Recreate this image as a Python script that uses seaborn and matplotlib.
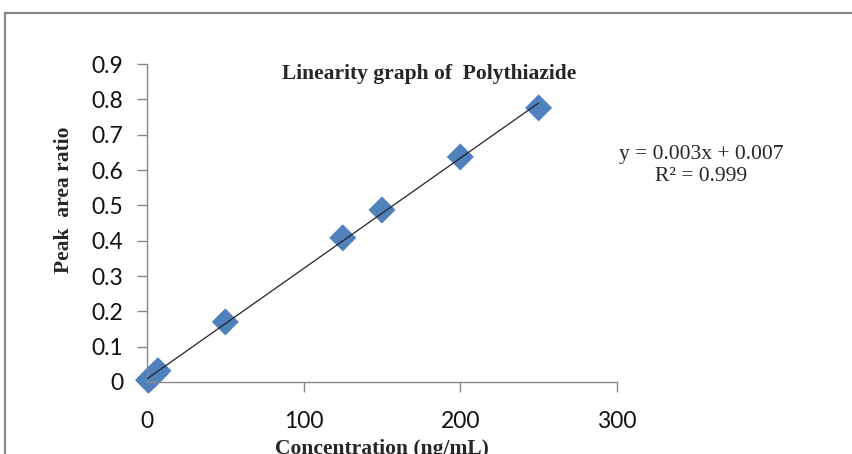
import numpy as np
import pandas as pd
import matplotlib
matplotlib.use("Agg")
import matplotlib.pyplot as plt
import seaborn as sns
from matplotlib.patches import Rectangle

# calibration data
conc = [1, 2.5, 5, 7, 50, 125, 150, 200, 250]
ratio = [0.005, 0.012, 0.022, 0.032, 0.17, 0.408, 0.487, 0.637, 0.776]
xticks = [0, 100, 200, 300]
yticks = [0, 0.1, 0.2, 0.3, 0.4, 0.5, 0.6, 0.7, 0.8, 0.9]

df = pd.DataFrame({'conc': conc, 'ratio': ratio})

sns.set_style('white')
fig = plt.figure(figsize=(8.53, 4.54), dpi=100)
ax = fig.add_axes([0.1723, 0.1586, 0.551, 0.7004])

# chart frame, runs off the right and bottom edges
fig.patches.append(Rectangle((0.006, -0.1), 1.2, 1.071, transform=fig.transFigure,
                             fill=False, edgecolor='#888888', linewidth=1.6))

slope, icpt = np.polyfit(df['conc'], df['ratio'], 1)
xl = np.array([0, df['conc'].max()])
ax.plot(xl, slope * xl + icpt, color='#222222', linewidth=0.9, zorder=3)

sns.scatterplot(data=df, x='conc', y='ratio', marker='D', s=190, color='#4F81BD',
                edgecolor='none', ax=ax, zorder=2, clip_on=False)

ax.set_xlim(0, 300)
ax.set_ylim(0, 0.9)
ax.set_xticks(xticks)
ax.set_yticks(yticks)
ax.set_xticklabels([str(t) for t in xticks], fontsize=16.5, family='Lato', color='#111111')
ax.set_yticklabels(['0'] + [f'{t:.1f}' for t in yticks[1:]], fontsize=16.5, family='Lato',
                   color='#111111')
ax.tick_params(axis='both', which='major', bottom=True, left=True, direction='out',
               length=7, width=1, color='#888888')
ax.tick_params(axis='y', pad=10)
ax.tick_params(axis='x', pad=14)

for s in ['top', 'right']:
    ax.spines[s].set_visible(False)
for s in ['left', 'bottom']:
    ax.spines[s].set_color('#888888')
    ax.spines[s].set_linewidth(1)

ax.set_xlabel('Concentration (ng/mL)', fontsize=15.5, family='Liberation Serif',
              fontweight='bold', labelpad=5)
ax.set_ylabel('Peak  area ratio', fontsize=15.5, family='Liberation Serif',
              fontweight='bold')
ax.yaxis.set_label_coords(-0.156, 0.572)

fig.text(0.503, 0.838, 'Linearity graph of  Polythiazide', ha='center', va='center',
         fontsize=15.5, family='Liberation Serif', fontweight='bold')
fig.text(0.822, 0.635, 'y = 0.003x + 0.007\nR² = 0.999', ha='center', va='center',
         fontsize=15.5, family='Liberation Serif', linespacing=1.18)

fig.savefig('out.png', dpi=100)
